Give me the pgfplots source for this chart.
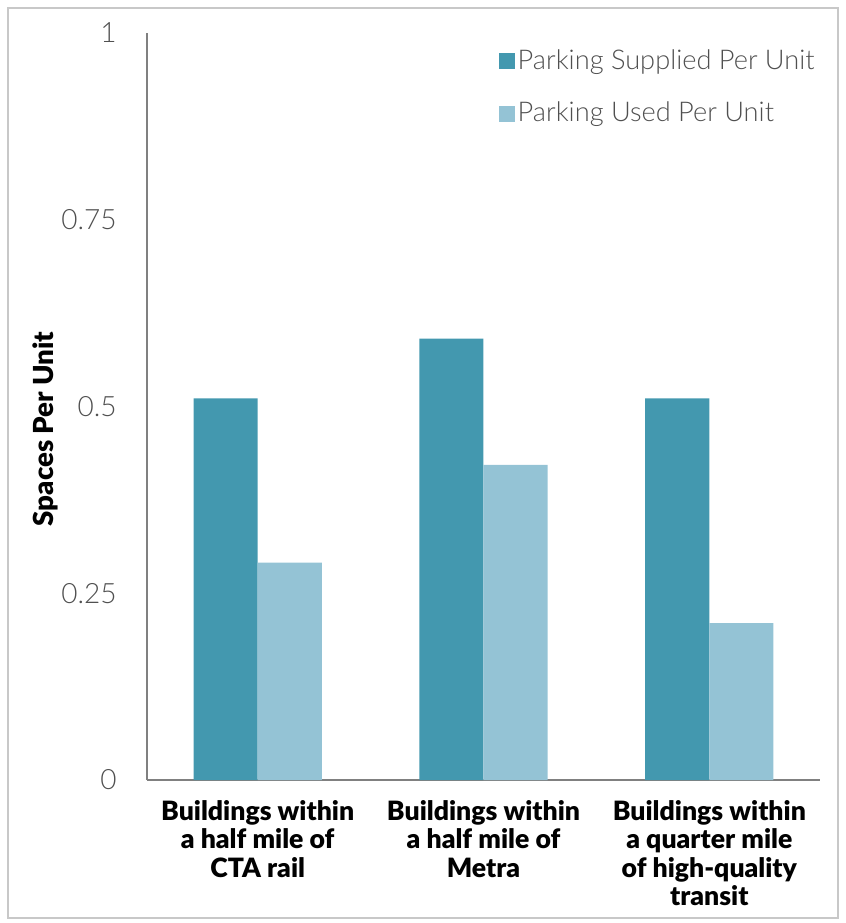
\documentclass[border=0pt]{standalone}
\usepackage{fontspec}
\setmainfont{Lato Light}
\newfontfamily\catfont{Lato Black}
\usepackage{pgfplots}
\pgfplotsset{compat=1.18}

\definecolor{supplied}{HTML}{4398AF}
\definecolor{used}{HTML}{94C3D5}
\definecolor{ticktext}{HTML}{505050}
\definecolor{axisgray}{HTML}{808080}
\definecolor{framegray}{HTML}{C8C8C8}

\begin{document}
\begin{tikzpicture}
\begin{axis}[
  at={(0pt,0pt)}, anchor=south west,
  scale only axis,
  width=336.5pt, height=373.5pt,
  ymin=0, ymax=1,
  xmin=-0.49, xmax=2.49,
  axis lines*=left,
  axis line style={axisgray, line width=0.75pt},
  ybar=0pt,
  bar width=0.284,
  xtick=data,
  xticklabels={{Buildings within\\a half mile of\\CTA rail},
               {Buildings within\\a half mile of\\Metra},
               {Buildings within\\a quarter mile\\of high-quality\\transit}},
  xticklabel style={align=center, anchor=north, inner sep=0pt, yshift=-10pt,
                    font=\catfont\fontsize{13.3}{14.2}\selectfont, text=black},
  ytick={0,0.25,0.5,0.75,1},
  yticklabels={0,0.25,0.5,0.75,1},
  yticklabel style={anchor=east, inner sep=0pt, xshift=-15pt,
                    font=\fontsize{14}{16}\selectfont, text=ticktext},
  major tick length=0pt,
  tick style={draw=none},
  ylabel={Spaces Per Unit},
  every axis y label/.style={at={([xshift=-51pt]axis description cs:0,0.47)},
                    rotate=90, anchor=center,
                    font=\catfont\fontsize{13.8}{15}\selectfont, text=black},
  legend style={at={(1,1)}, anchor=north east, draw=none, fill=none,
                xshift=-1pt, yshift=-6.5pt,
                font=\fontsize{13.6}{15}\selectfont, text=ticktext,
                row sep=12pt, inner sep=0pt,
                nodes={inner sep=1.5pt}},
  legend cell align=left,
  legend image code/.code={\fill (-3pt,-4pt) rectangle (5pt,4pt);},
]
\addplot[fill=supplied, draw=none] coordinates {(0,0.511) (1,0.591) (2,0.511)};
\addplot[fill=used, draw=none] coordinates {(0,0.291) (1,0.422) (2,0.210)};
\legend{Parking Supplied Per Unit, Parking Used Per Unit}
\end{axis}
\draw[framegray, line width=1pt] (-69.5pt,-69pt) rectangle (345.5pt,386pt);
\pgfresetboundingbox
\path[use as bounding box] (-73.5pt,-71.5pt) rectangle (349.5pt,390pt);
\end{tikzpicture}
\end{document}
